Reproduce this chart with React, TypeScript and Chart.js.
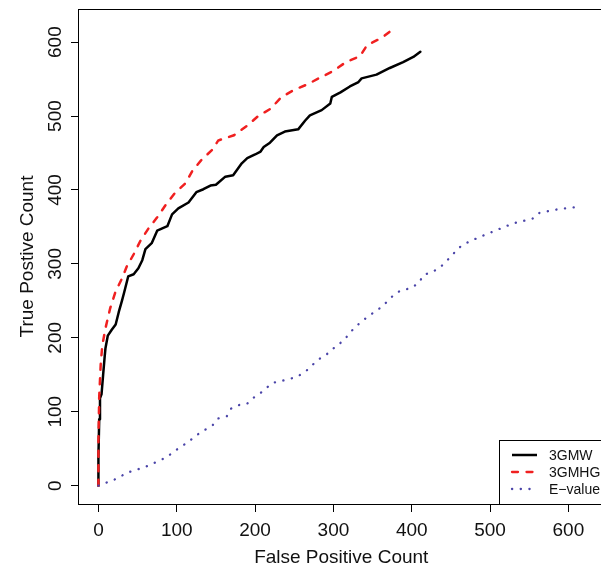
import React, { useEffect, useRef } from 'react';
import { Chart, registerables } from 'chart.js';

Chart.register(...registerables);

const FONT = '"Liberation Sans", Arial, Helvetica, sans-serif';

// Series names (legend)
const seriesNames = ['3GMW', '3GMHG', 'E\u2212value'];

// Axis tick values
const xTicks = [0, 100, 200, 300, 400, 500, 600];
const yTicks = [0, 100, 200, 300, 400, 500, 600];

// Axis titles
const xTitle = 'False Positive Count';
const yTitle = 'True Postive Count';

// 3GMW curve (false positives, true positives)
const gmwFP = [0, 0, 1, 2, 4, 6, 8, 9, 12, 17, 22, 26, 30, 33, 38, 45, 51, 56, 60, 68, 75, 88, 94, 102, 115, 125, 134, 143, 150, 162, 172, 183, 190, 200, 207, 211, 219, 228, 238, 255, 264, 270, 285, 296, 298, 309, 321, 332, 336, 355, 372, 389, 402, 411];
const gmwTP = [0, 40, 90, 118, 124, 150, 175, 186, 203, 211, 218, 235, 250, 262, 283, 286, 294, 305, 320, 328, 345, 351, 367, 375, 383, 397, 401, 406, 407, 418, 420, 436, 443, 448, 452, 458, 464, 474, 479, 482, 494, 501, 508, 517, 526, 532, 540, 546, 551, 556, 565, 573, 580, 587];

// 3GMHG curve
const ghgFP = [0, 0, 1, 3, 5, 9, 15, 22, 30, 36, 45, 54, 64, 75, 86, 97, 111, 120, 131, 145, 153, 173, 190, 204, 220, 233, 249, 267, 283, 300, 316, 334, 343, 362, 379];
const ghgTP = [0, 60, 120, 166, 190, 213, 240, 263, 280, 296, 313, 332, 348, 363, 380, 395, 409, 426, 440, 454, 467, 474, 487, 500, 510, 525, 535, 543, 552, 561, 573, 581, 596, 606, 620];

// E-value curve
const evFP = [0, 10, 20, 38, 59, 78, 88, 96, 113, 129, 146, 153, 164, 169, 179, 190, 198, 209, 222, 239, 253, 264, 280, 296, 304, 312, 327, 343, 362, 378, 386, 398, 409, 415, 426, 436, 452, 458, 467, 488, 509, 530, 554, 563, 587, 612];
const evTP = [0, 4, 8, 18, 25, 34, 39, 46, 58, 71, 82, 91, 94, 104, 109, 111, 119, 127, 139, 143, 147, 154, 170, 181, 190, 195, 214, 228, 242, 259, 264, 267, 274, 285, 289, 295, 312, 320, 327, 337, 346, 355, 361, 369, 374, 377];

const BLACK = '#000000';
const RED = '#f02020';
const BLUE = '#4a44a8';

const RED_DASH = [6, 8.5];
const BLUE_DASH = [0.2, 8.5];

const toPts = (xs: number[], ys: number[]) => xs.map((x, i) => ({ x, y: ys[i] }));

const CANVAS_W = 620;
const CANVAS_H = 568;

const overlay = {
  id: 'rOverlay',
  afterDraw(chart: any) {
    const { ctx, chartArea } = chart;
    const xs = chart.scales.x;
    const ys = chart.scales.y;
    ctx.save();
    // Plot box
    ctx.strokeStyle = '#000';
    ctx.lineWidth = 1;
    ctx.strokeRect(Math.round(chartArea.left) - 0.5, Math.round(chartArea.top) + 0.5,
      chartArea.right - chartArea.left, Math.round(chartArea.bottom) - Math.round(chartArea.top));

    ctx.fillStyle = '#111';
    ctx.font = `19px ${FONT}`;
    // x tick labels
    ctx.textAlign = 'center';
    ctx.textBaseline = 'alphabetic';
    xs.ticks.forEach((t: any) => {
      ctx.fillText(String(t.value), xs.getPixelForValue(t.value), 535.5);
    });
    // y tick labels (rotated)
    ys.ticks.forEach((t: any) => {
      ctx.save();
      ctx.translate(60.5, ys.getPixelForValue(t.value));
      ctx.rotate(-Math.PI / 2);
      ctx.fillText(String(t.value), 0, 0);
      ctx.restore();
    });
    // axis titles
    ctx.fillText(xTitle, (chartArea.left + chartArea.right) / 2, 563);
    ctx.save();
    ctx.translate(33, (chartArea.top + chartArea.bottom) / 2);
    ctx.rotate(-Math.PI / 2);
    ctx.fillText(yTitle, 0, 0);
    ctx.restore();

    // Legend
    const lx = 499.5, ly = 440.5;
    ctx.strokeStyle = '#000';
    ctx.lineWidth = 1;
    ctx.strokeRect(lx, ly, chartArea.right - lx, Math.round(chartArea.bottom) + 0.5 - ly);
    const rows = [455, 472, 489];
    const styles = [
      { color: BLACK, dash: [] as number[], cap: 'butt' },
      { color: RED, dash: RED_DASH, cap: 'round' },
      { color: BLUE, dash: BLUE_DASH, cap: 'round' },
    ];
    ctx.font = `14px ${FONT}`;
    ctx.textAlign = 'left';
    ctx.textBaseline = 'middle';
    rows.forEach((ry, i) => {
      ctx.save();
      ctx.strokeStyle = styles[i].color;
      ctx.lineWidth = i === 0 ? 2.5 : 2.3;
      ctx.lineCap = styles[i].cap as CanvasLineCap;
      ctx.setLineDash(styles[i].dash);
      ctx.beginPath();
      ctx.moveTo(512, ry);
      ctx.lineTo(537, ry);
      ctx.stroke();
      ctx.restore();
      ctx.fillStyle = '#111';
      ctx.fillText(seriesNames[i], 549, ry + 1);
    });
    ctx.restore();
  },
};

export default function App() {
  const canvasRef = useRef<HTMLCanvasElement | null>(null);

  useEffect(() => {
    const canvas = canvasRef.current;
    if (!canvas) return;
    const chart = new Chart(canvas, {
      type: 'line',
      data: {
        datasets: [
          {
            label: seriesNames[0],
            data: toPts(gmwFP, gmwTP),
            borderColor: BLACK,
            borderWidth: 2.5,
            pointRadius: 0,
            tension: 0,
            borderJoinStyle: 'round',
            borderCapStyle: 'round',
            order: 3,
          },
          {
            label: seriesNames[1],
            data: toPts(ghgFP, ghgTP),
            borderColor: RED,
            borderWidth: 2.5,
            borderDash: RED_DASH,
            borderCapStyle: 'round',
            pointRadius: 0,
            tension: 0,
            order: 2,
          },
          {
            label: seriesNames[2],
            data: toPts(evFP, evTP),
            borderColor: BLUE,
            borderWidth: 2.3,
            borderDash: BLUE_DASH,
            borderCapStyle: 'round',
            pointRadius: 0,
            tension: 0,
            order: 1,
          },
        ],
      },
      options: {
        responsive: false,
        animation: false,
        events: [],
        layout: { padding: { left: 0, top: 9, right: CANVAS_W - 603.5, bottom: 0 } },
        plugins: { legend: { display: false }, tooltip: { enabled: false } },
        scales: {
          x: {
            type: 'linear',
            min: -24.8,
            max: 644.8,
            afterFit: (s: any) => { s.height = CANVAS_H - 504; },
            afterBuildTicks: (s: any) => { s.ticks = xTicks.map((v) => ({ value: v })); },
            ticks: { display: false },
            grid: { drawOnChartArea: false, drawTicks: true, tickLength: 8, color: '#000', lineWidth: 1 },
            border: { display: false },
          },
          y: {
            type: 'linear',
            min: -24.8,
            max: 644.8,
            afterFit: (s: any) => { s.width = 79; },
            afterBuildTicks: (s: any) => { s.ticks = yTicks.map((v) => ({ value: v })); },
            ticks: { display: false },
            grid: { drawOnChartArea: false, drawTicks: true, tickLength: 8, color: '#000', lineWidth: 1 },
            border: { display: false },
          },
        },
      },
      plugins: [overlay],
    } as any);
    return () => chart.destroy();
  }, []);

  return (
    <div style={{ position: 'absolute', left: 0, top: 0, width: 601, height: 568, overflow: 'hidden', background: '#fff' }}>
      <canvas ref={canvasRef} width={CANVAS_W} height={CANVAS_H} style={{ display: 'block' }} />
    </div>
  );
}
